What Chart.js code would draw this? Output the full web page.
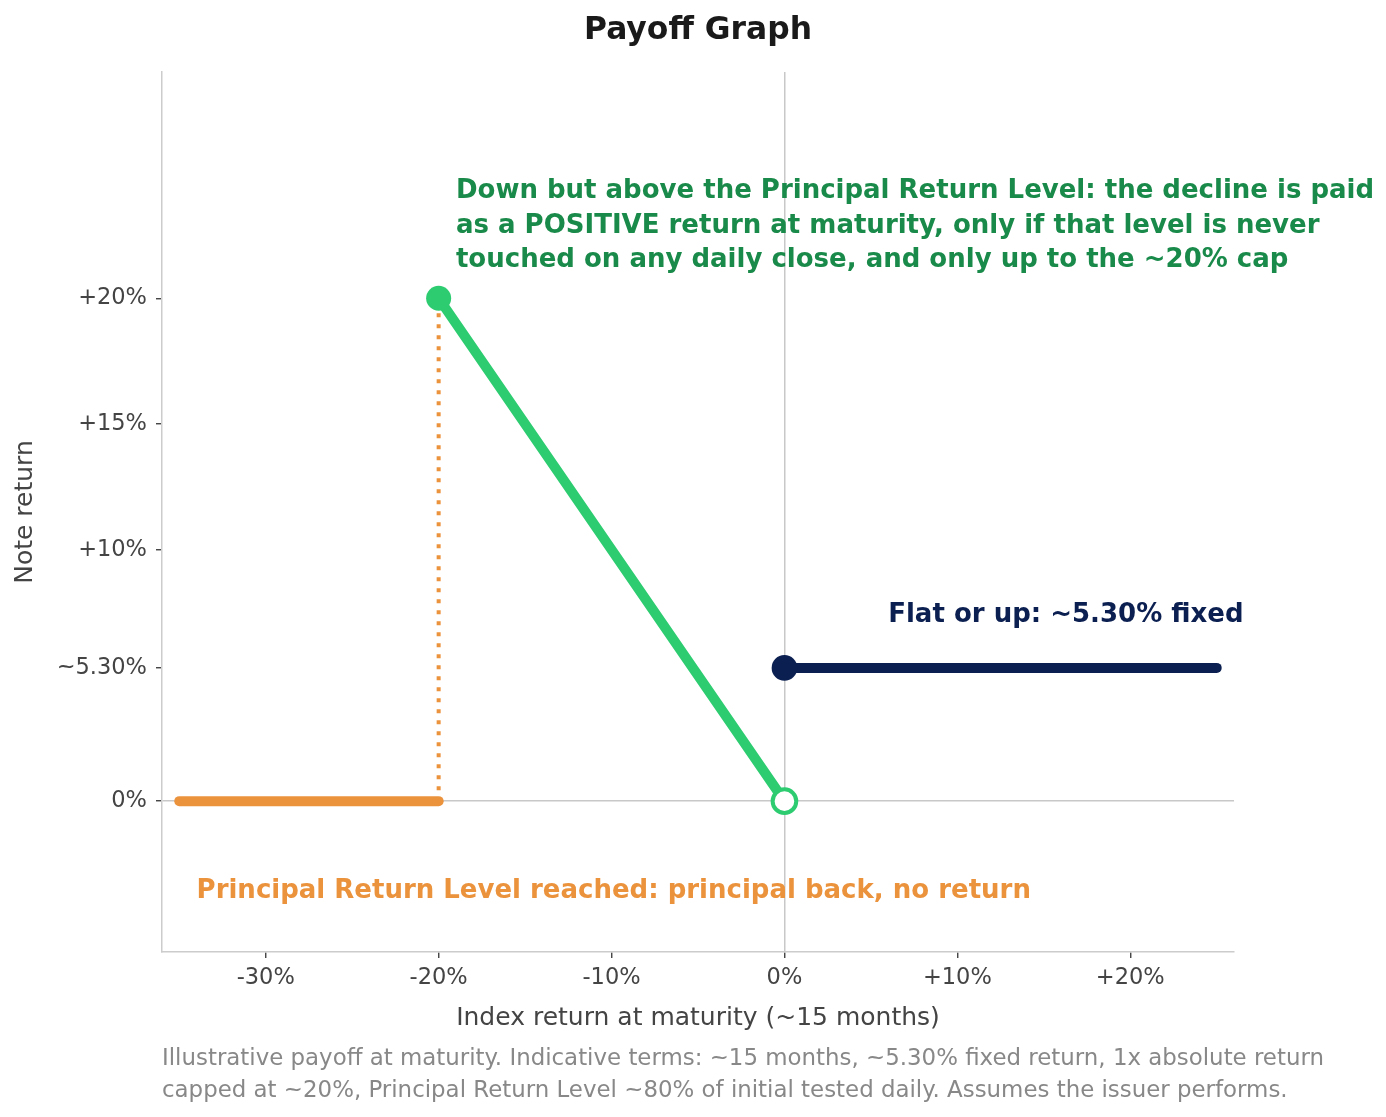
<!DOCTYPE html>
<html>
<head>
<meta charset="utf-8">
<script src="https://cdn.jsdelivr.net/npm/chart.js@4.4.1/dist/chart.umd.min.js"></script>
<style>
  html, body { margin: 0; padding: 0; background: #fff; }
  #wrap { width: 1386px; height: 1117px; }
</style>
</head>
<body>
<div id="wrap"><canvas id="myChart" width="1386" height="1117"></canvas></div>
<script>
// payoff legs (index return %, note return %)
const floorX = [-35, -20]
const floorY = [0, 0]
const barrierX = [-20, -20]
const barrierY = [0, 20]
const absX = [-20, 0]
const absY = [20, 0]
const flatX = [0, 25]
const flatY = [5.3, 5.3]

const xTicks = [-30, -20, -10, 0, 10, 20]
const xTickLabels = ['-30%', '-20%', '-10%', '0%', '+10%', '+20%']
const yTicks = [0, 5.3, 10, 15, 20]
const yTickLabels = ['0%', '~5.30%', '+10%', '+15%', '+20%']

const chartTitle = 'Payoff Graph'
const xTitle = 'Index return at maturity (~15 months)'
const yTitle = 'Note return'
const footNote = [
    'Illustrative payoff at maturity. Indicative terms: ~15 months, ~5.30% fixed return, 1x absolute return',
    'capped at ~20%, Principal Return Level ~80% of initial tested daily. Assumes the issuer performs.'
]
const notes = [
    {x: -19, y: 21, color: '#1a8a4a', lines: [
        'Down but above the Principal Return Level: the decline is paid',
        'as a POSITIVE return at maturity, only if that level is never',
        'touched on any daily close, and only up to the ~20% cap']},
    {x: 6, y: 6.9, color: '#0b1f50', lines: ['Flat or up: ~5.30% fixed']},
    {x: -34, y: -4.1, color: '#eb923c', lines: ['Principal Return Level reached: principal back, no return']}
]

const FONT = '"DejaVu Sans", sans-serif'

function pts(xs, ys) {
    return xs.map((x, i) => ({x: x, y: ys[i]}))
}

const extras = {
    id: 'extras',
    afterDraw(chart) {
        const ctx = chart.ctx
        const xs = chart.scales.x, ys = chart.scales.y
        const area = chart.chartArea
        ctx.save()
        // title
        ctx.fillStyle = '#1a1a1a'
        ctx.font = 'bold 31.4px ' + FONT
        ctx.textAlign = 'center'
        ctx.textBaseline = 'alphabetic'
        ctx.fillText(chartTitle, (area.left + area.right) / 2, 38.5)
        // annotations, anchored at their bottom like the source
        const fs = 26
        ctx.font = 'bold ' + fs + 'px ' + FONT
        ctx.textAlign = 'left'
        notes.forEach(n => {
            ctx.fillStyle = n.color
            const px = xs.getPixelForValue(n.x)
            const base = ys.getPixelForValue(n.y) - 0.236 * fs
            n.lines.forEach((line, i) => {
                ctx.fillText(line, px, base - (n.lines.length - 1 - i) * 34.5)
            })
        })
        // footnote
        ctx.fillStyle = '#888888'
        ctx.font = '22.9px ' + FONT
        footNote.forEach((line, i) => ctx.fillText(line, area.left, 1064.5 + i * 32))
        ctx.restore()
    }
}

const ctx = document.getElementById('myChart').getContext('2d')
window.bar = new Chart(ctx, {
    type: 'scatter',
    data: {
        datasets: [
            {
                label: 'absolute return',
                data: pts(absX, absY),
                showLine: true,
                borderColor: '#2ecc71',
                borderWidth: 10,
                borderCapStyle: 'round',
                pointRadius: [12.5, 11.8],
                pointBackgroundColor: ['#2ecc71', '#ffffff'],
                pointBorderColor: '#2ecc71',
                pointBorderWidth: [0, 4],
                order: 0
            },
            {
                label: 'fixed return',
                data: pts(flatX, flatY),
                showLine: true,
                borderColor: '#0b1f50',
                borderWidth: 10,
                borderCapStyle: 'round',
                pointRadius: [12.8, 0],
                pointBackgroundColor: '#0b1f50',
                pointBorderWidth: 0,
                order: 1
            },
            {
                label: 'principal back',
                data: pts(floorX, floorY),
                showLine: true,
                borderColor: '#eb923c',
                borderWidth: 10,
                borderCapStyle: 'round',
                pointRadius: 0,
                order: 2
            },
            {
                label: 'barrier',
                data: pts(barrierX, barrierY),
                showLine: true,
                borderColor: '#eb923c',
                borderWidth: 4,
                borderDash: [4, 7],
                borderCapStyle: 'butt',
                pointRadius: 0,
                order: 3
            }
        ]
    },
    options: {
        responsive: false,
        animation: false,
        devicePixelRatio: 1,
        layout: {padding: {top: 72, right: 152, bottom: 65, left: 0}},
        plugins: {legend: {display: false}, tooltip: {enabled: false}, title: {display: false}},
        scales: {
            x: {
                type: 'linear',
                min: -36,
                max: 26,
                afterBuildTicks: s => { s.ticks = xTicks.map(v => ({value: v})) },
                afterFit: s => { s.height = 100 },
                ticks: {
                    color: '#444',
                    font: {family: FONT, size: 22.5},
                    padding: 7,
                    callback: v => xTickLabels[xTicks.indexOf(v)]
                },
                grid: {
                    drawOnChartArea: true,
                    color: c => (c.tick && c.tick.value === 0) ? '#c8c8c8' : 'rgba(0,0,0,0)',
                    lineWidth: 1.5,
                    tickColor: '#333',
                    tickLength: 6,
                    tickWidth: 1.3
                },
                border: {color: '#cccccc', width: 1.5},
                title: {
                    display: true,
                    text: xTitle,
                    color: '#444',
                    font: {family: FONT, size: 25},
                    padding: {top: 0, bottom: 19}
                }
            },
            y: {
                type: 'linear',
                min: -6,
                max: 29,
                afterBuildTicks: s => { s.ticks = yTicks.map(v => ({value: v})) },
                afterFit: s => { s.width = 162 },
                ticks: {
                    color: '#444',
                    font: {family: FONT, size: 22.5},
                    padding: 9,
                    callback: v => yTickLabels[yTicks.indexOf(v)]
                },
                grid: {
                    drawOnChartArea: true,
                    color: c => (c.tick && c.tick.value === 0) ? '#c8c8c8' : 'rgba(0,0,0,0)',
                    lineWidth: 1.5,
                    tickColor: '#333',
                    tickLength: 6,
                    tickWidth: 1.3
                },
                border: {color: '#cccccc', width: 1.5},
                title: {
                    display: true,
                    text: yTitle,
                    color: '#444',
                    font: {family: FONT, size: 25},
                    padding: {top: 10, bottom: 0}
                }
            }
        }
    },
    plugins: [extras]
})
</script>
</body>
</html>
